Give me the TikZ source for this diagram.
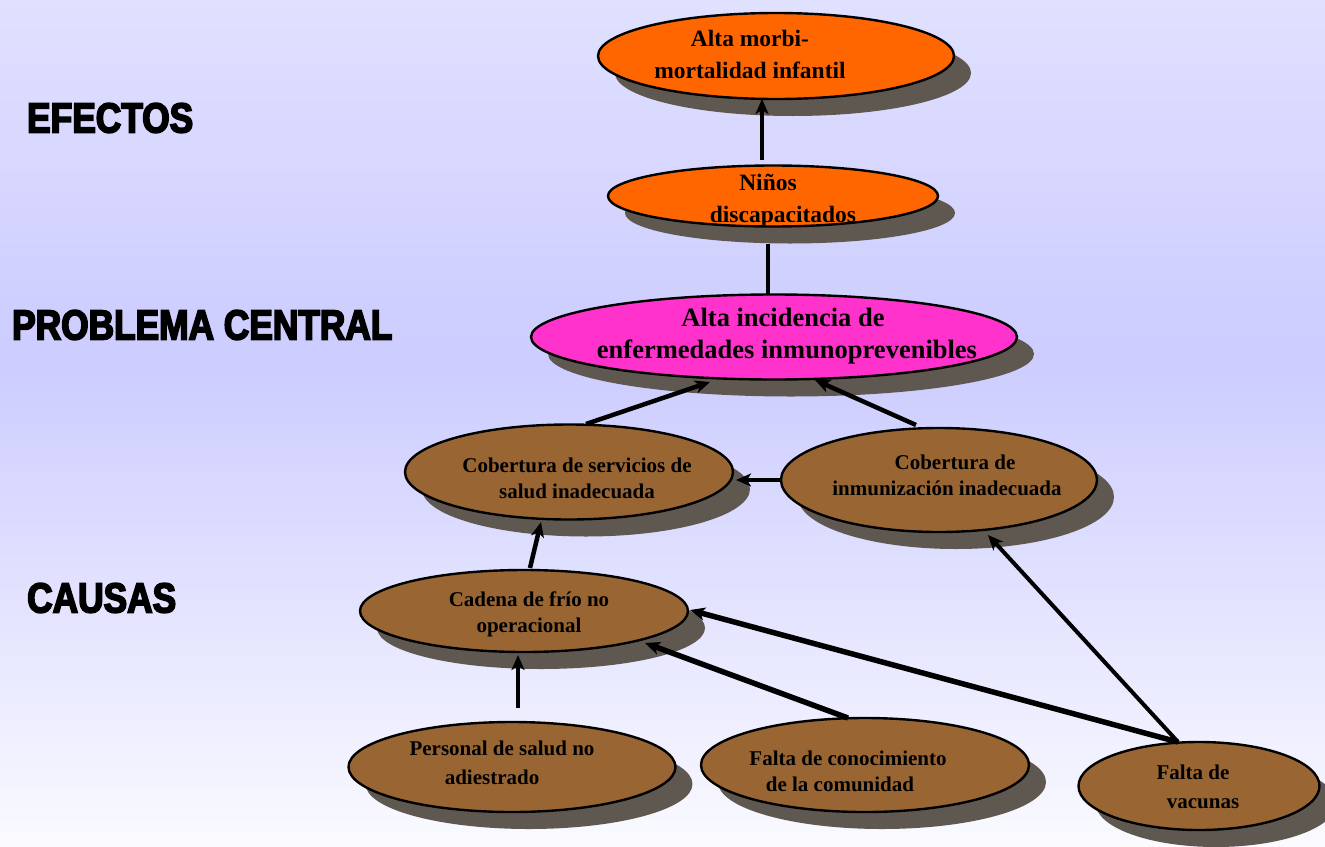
\documentclass[tikz,border=0pt]{standalone}
\usepackage{fontspec}
\setmainfont{Liberation Serif}
\newfontfamily\headfont[FakeStretch=0.84,FakeBold=4]{Liberation Sans}
\usetikzlibrary{shapes.geometric,shadows,arrows.meta,calc}
\definecolor{orangec}{HTML}{FF6600}
\definecolor{magc}{HTML}{FF33CC}
\definecolor{brownc}{HTML}{996633}
\definecolor{shc}{HTML}{5E5850}
\definecolor{bgtop}{HTML}{E0E0FF}
\definecolor{bgmid}{HTML}{CCCCFF}
\definecolor{bgbot}{HTML}{FAFAFF}
\begin{document}
\begin{tikzpicture}[x=1pt,y=-1pt,
  oval/.style={ellipse, draw=black, line width=2.4pt, inner sep=0pt,
    drop shadow={shadow xshift=17pt, shadow yshift=-17pt, fill=shc, opacity=1}},
  lbl/.style={align=center, font=\bfseries\fontsize{21}{26}\selectfont, text=black, inner sep=0pt},
  biglbl/.style={lbl, font=\bfseries\fontsize{23.5}{32}\selectfont},
  hugelbl/.style={lbl, font=\bfseries\fontsize{26.5}{32}\selectfont},
  heading/.style={anchor=west, font=\headfont\bfseries\fontsize{42}{42}\selectfont, inner sep=0pt},
  conn/.style={line width=4.5pt, -{Stealth[length=15pt,width=13pt,inset=4pt]}},
  plainconn/.style={line width=4.5pt}
]
\useasboundingbox (0,0) rectangle (1325,846);
\shade[top color=bgtop, bottom color=bgmid] (0,0) rectangle (1325,361);
\shade[top color=bgmid, bottom color=bgbot] (0,360) rectangle (1325,846);

% headings
\node[heading] (hef) at (27,118) {EFECTOS};
\node[heading] (hpc) at (12,325) {PROBLEMA CENTRAL};
\node[heading] (hca) at (27,598) {CAUSAS};

% ellipses
\node[oval, fill=orangec, minimum width=356pt, minimum height=86pt] (morb) at (776,56) {};
\node[oval, fill=orangec, minimum width=330pt, minimum height=61pt] (nino) at (773,196) {};
\node[oval, fill=magc, minimum width=486pt, minimum height=85pt] (inci) at (774,337) {};
\node[oval, fill=brownc, minimum width=328pt, minimum height=95pt] (serv) at (569,472) {};
\node[oval, fill=brownc, minimum width=316pt, minimum height=104pt] (inmu) at (939,480) {};
\node[oval, fill=brownc, minimum width=328pt, minimum height=82pt] (cade) at (524,611) {};
\node[oval, fill=brownc, minimum width=327pt, minimum height=90pt] (pers) at (512,767) {};
\node[oval, fill=brownc, minimum width=328pt, minimum height=94pt] (cono) at (865,765) {};
\node[oval, fill=brownc, minimum width=241pt, minimum height=88pt] (vacu) at (1199,786) {};

% texts
\node[biglbl] (tmorb) at (750,54) {Alta morbi-\\mortalidad infantil};
\node[biglbl] (tnino) at (768,201) {Niños\\\hspace*{30pt}discapacitados};
\node[hugelbl] (tinci) at (783,336) {Alta incidencia de\\\hspace*{8pt}enfermedades inmunoprevenibles};
\node[lbl] (tserv) at (577,478) {Cobertura de servicios de\\salud inadecuada};
\node[lbl] (tinmu) at (947,475) {\hspace*{16pt}Cobertura de\\inmunización inadecuada};
\node[lbl] (tcade) at (529,614) {Cadena de frío no\\operacional};
\node[lbl, font=\bfseries\fontsize{21}{29}\selectfont] (tpers) at (492,763) {\hspace*{20pt}Personal de salud no\\adiestrado};
\node[lbl] (tcono) at (840,771) {\hspace*{16pt}Falta de conocimiento\\de la comunidad};
\node[lbl, font=\bfseries\fontsize{21}{29}\selectfont] (tvacu) at (1193,787) {Falta de\\\hspace*{20pt}vacunas};

% connectors
\draw[conn] ($(nino.center)+(-11,-36)$) -- ($(morb.center)+(-14,43)$);
\draw[plainconn] ($(nino.center)+(-5,48)$) -- ($(inci.center)+(-6,-42)$);
\draw[conn] ($(serv.center)+(17,-48)$) -- ($(inci.center)+(-64,45)$);
\draw[conn] ($(inmu.center)+(-23,-55)$) -- ($(inci.center)+(41,43)$);
\draw[conn] (inmu.west) -- ($(serv.center)+(167,8)$);
\draw[conn] ($(cade.center)+(6,-43)$) -- ($(serv.center)+(-28,50)$);
\draw[conn] ($(pers.center)+(6,-59)$) -- ($(cade.center)+(-6,44)$);
\draw[conn, line width=5.5pt] ($(cono.center)+(-17,-47)$) -- ($(cade.center)+(121,32)$);
\draw[conn, line width=5.5pt] ($(vacu.center)+(-21,-44)$) -- ($(cade.center)+(166,-1)$);
\draw[conn, line width=4pt] ($(vacu.center)+(-21,-44)$) -- ($(inmu.center)+(49,55)$);
\end{tikzpicture}
\end{document}
